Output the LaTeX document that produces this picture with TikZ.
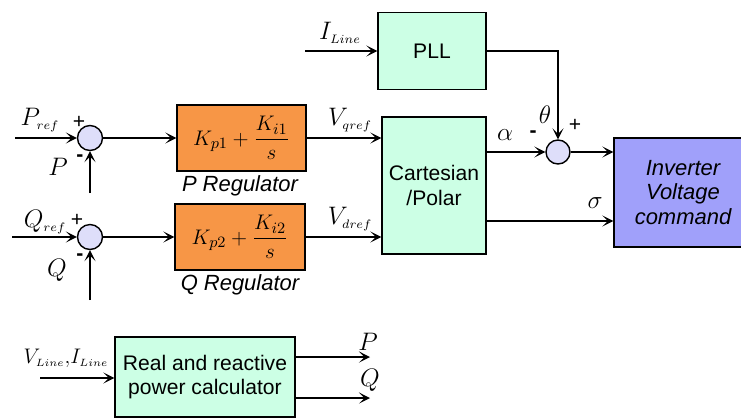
\documentclass[tikz,border=0pt]{standalone}
\usepackage{amsmath}
\usepackage{fontspec}
\setmainfont{Liberation Sans}
\usepackage{tikz}
\usetikzlibrary{arrows.meta,positioning,calc}

\definecolor{regorange}{RGB}{247,150,70}
\definecolor{mint}{RGB}{204,255,229}
\definecolor{lavender}{RGB}{222,222,250}
\definecolor{invblue}{RGB}{160,160,250}

\begin{document}
\begin{tikzpicture}[
    blk/.style={draw, line width=0.8pt, align=center, inner sep=2pt, font=\fontsize{12}{14}\selectfont},
    calcblk/.style={blk, fill=mint},
    regblk/.style={blk, fill=regorange, font=\fontsize{13}{15}\selectfont},
    invblk/.style={blk, fill=invblue, font=\fontsize{12.5}{14.2}\selectfont\itshape},
    sumpt/.style={draw, circle, line width=0.8pt, fill=lavender, minimum size=0.5cm, inner sep=0pt},
    arr/.style={-{Stealth[length=2.2mm, width=2.2mm, inset=1.1mm]}, line width=0.8pt},
    lbl/.style={font=\fontsize{14}{16}\selectfont, inner sep=0pt},
    sgn/.style={font=\fontsize{12}{14}\selectfont, inner sep=0pt},
    regcap/.style={font=\fontsize{12.5}{14}\selectfont\itshape, inner sep=0pt}
]
\useasboundingbox (0,0) rectangle (14.82,-8.36);

% blocks
\node[calcblk, minimum width=2.16cm, minimum height=1.54cm] (PLL) at (8.64,-1.02) {PLL};
\node[calcblk, minimum width=2.08cm, minimum height=2.74cm] (Cart) at (8.68,-3.71) {Cartesian\\/Polar};
\node[invblk, minimum width=2.76cm, minimum height=2.18cm] (Inv) at (13.66,-3.85) {Inverter\\Voltage\\command};
\node[regblk, minimum width=2.58cm, minimum height=1.32cm] (RegP) at (4.83,-2.76) {$K_{p1}+\dfrac{K_{i1}}{s}$};
\node[regblk, minimum width=2.60cm, minimum height=1.32cm] (RegQ) at (4.80,-4.74) {$K_{p2}+\dfrac{K_{i2}}{s}$};
\node[calcblk, minimum width=3.60cm, minimum height=1.60cm] (Calc) at (4.10,-7.54) {Real and reactive\\power calculator};
\node[regcap] (capP) at (4.80,-3.72) {P Regulator};
\node[regcap] (capQ) at (4.80,-5.70) {Q Regulator};

% summing points
\node[sumpt] (SumP) at (1.80,-2.76) {};
\node[sumpt] (SumQ) at (1.80,-4.74) {};
\node[sumpt, minimum size=0.48cm] (SumA) at (11.16,-3.04) {};

% free ends
\coordinate (inPref) at (0.30,-2.76);
\coordinate (inP) at (1.80,-3.86);
\coordinate (inQref) at (0.24,-4.74);
\coordinate (inQ) at (1.80,-6.00);
\coordinate (inIline) at (6.10,-1.02);
\coordinate (inVI) at (0.80,-7.56);
\coordinate (outP) at (7.40,-7.14);
\coordinate (outQ) at (7.40,-7.96);
\coordinate (sigOut) at ($(Cart.east)+(0,-0.71)$);

% connectors
\draw[arr] (inPref) -- (SumP);
\draw[arr] (inP) -- (SumP);
\draw[arr] (SumP) -- (RegP);
\draw[arr] (inQref) -- (SumQ);
\draw[arr] (inQ) -- (SumQ);
\draw[arr] (SumQ) -- (RegQ);
\draw[arr] (RegP.east) -- (RegP.east -| Cart.west);
\draw[arr] (RegQ.east) -- (RegQ.east -| Cart.west);
\draw[arr] (inIline) -- (PLL.west);
\draw[arr] (PLL.east) -| (SumA.north);
\draw[arr] (SumA.west -| Cart.east) -- (SumA.west);
\draw[arr] (SumA.east) -- (SumA.east -| Inv.west);
\draw[arr] (sigOut) -- (sigOut -| Inv.west);
\draw[arr] (inVI) -- (inVI -| Calc.west);
\draw[arr] (outP -| Calc.east) -- (outP);
\draw[arr] (outQ -| Calc.east) -- (outQ);

% signal labels
\node[lbl] at (0.80,-2.40) {$P_{\scriptscriptstyle ref}$};
\node[sgn] at (1.58,-2.44) {+};
\node[sgn] at (1.60,-3.16) {\textbf{-}};
\node[lbl] at (1.16,-3.34) {$P$};
\node[lbl] at (0.90,-4.44) {$Q_{\scriptscriptstyle ref}$};
\node[sgn] at (1.54,-4.40) {+};
\node[sgn] at (1.60,-5.14) {\textbf{-}};
\node[lbl] at (1.14,-5.40) {$Q$};
\node[lbl] at (7.00,-2.40) {$V_{\scriptscriptstyle qref}$};
\node[lbl] at (7.00,-4.38) {$V_{\scriptscriptstyle dref}$};
\node[lbl] at (6.80,-0.66) {$I_{\scriptscriptstyle Line}$};
\node[lbl] at (10.90,-2.30) {$\theta$};
\node[sgn] at (11.50,-2.50) {+};
\node[sgn] at (10.66,-2.68) {\textbf{-}};
\node[lbl] at (10.10,-2.70) {$\alpha$};
\node[lbl] at (11.90,-4.06) {$\sigma$};
\node[lbl, font=\fontsize{13}{15}\selectfont] at (1.32,-7.16) {$V_{\scriptscriptstyle Line}{,}I_{\scriptscriptstyle Line}$};
\node[lbl] at (7.36,-6.84) {$P$};
\node[lbl] at (7.40,-7.60) {$Q$};
\end{tikzpicture}
\end{document}
